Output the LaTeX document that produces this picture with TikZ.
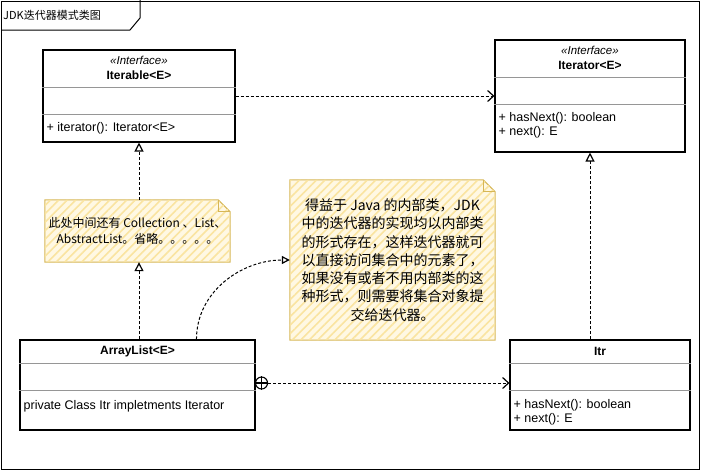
\documentclass[tikz,border=0pt]{standalone}
\usepackage{fontspec}
\setmainfont{Liberation Sans}
\newfontfamily\cjk{Noto Sans CJK SC}
\usetikzlibrary{arrows.meta,positioning,calc,patterns.meta}
\definecolor{noteyellow}{RGB}{255,242,204}
\definecolor{notehatch}{RGB}{250,228,160}
\definecolor{noteborder}{RGB}{214,182,86}
\definecolor{divgray}{RGB}{150,150,150}

% folded note outline round an (empty) node
\newcommand{\drawnote}[1]{%
  \draw[notepaper] (#1.north west) -- ($(#1.north east)+(-12,0)$) -- ($(#1.north east)+(0,12)$)
    -- (#1.south east) -- (#1.south west) -- cycle;
  \draw[noteedge] ($(#1.north east)+(-12,0)$) -- ($(#1.north east)+(-12,12)$) -- ($(#1.north east)+(0,12)$);
}

\begin{document}
\begin{tikzpicture}[
    x=1pt, y=-1pt,
    classbox/.style={rectangle, draw=black, line width=1.1pt, inner sep=0pt},
    divider/.style={draw=divgray, line width=0.7pt},
    stereo/.style={inner sep=0pt, font=\itshape\fontsize{11.5}{12}\selectfont},
    cname/.style={inner sep=0pt, font=\bfseries\fontsize{12}{13}\selectfont},
    member/.style={anchor=west, inner sep=0pt, font=\fontsize{12.5}{13}\selectfont},
    notebox/.style={rectangle, inner sep=0pt},
    notepaper/.style={fill=noteyellow!55, draw=noteborder, line width=1pt,
        postaction={pattern={Lines[angle=45,distance=6pt,line width=1.6pt]}, pattern color=notehatch}},
    noteedge/.style={draw=noteborder, line width=1pt},
    link/.style={dash pattern=on 3pt off 2pt, line width=1pt},
    dep/.style={link, -{Straight Barb[length=6pt,width=11pt,line width=1.2pt]}},
    realize/.style={link, -{Triangle[open,length=9pt,width=9pt,line width=1.2pt]}},
    notelink/.style={link, -{Triangle[open,length=8pt,width=8pt,line width=1.2pt]}}
]
\useasboundingbox (0,0) rectangle (701,471);

% frame and title tab
\node[draw, line width=1pt, minimum width=698pt, minimum height=468pt, inner sep=0pt] (frame) at (350.5,235.5) {};
\node[anchor=west, inner sep=0pt, font=\cjk\fontsize{11}{12}\selectfont] (title) at (3,15) {JDK迭代器模式类图};
\draw[line width=1pt] (frame.north west |- 0,30) -- (130,30) -- (140,18) -- (140,0);

% Iterable<E>
\node[classbox, minimum width=192pt, minimum height=92pt] (iterable) at (139,96) {};
\node[stereo] (iterablestereo) at ($(iterable.north)+(0,11)$) {«Interface»};
\node[cname] (iterablename) at ($(iterable.north)+(0,26)$) {Iterable<E>};
\draw[divider] ($(iterable.north west)+(0,38)$) -- ($(iterable.north east)+(0,38)$);
\draw[divider] ($(iterable.north west)+(0,65)$) -- ($(iterable.north east)+(0,65)$);
\node[member] (iterablem) at ($(iterable.north west)+(4,79)$) {+ iterator(): Iterator<E>};

% Iterator<E>
\node[classbox, minimum width=190pt, minimum height=112pt] (iterator) at (590,96) {};
\node[stereo] (iteratorstereo) at ($(iterator.north)+(0,11)$) {«Interface»};
\node[cname] (iteratorname) at ($(iterator.north)+(0,26)$) {Iterator<E>};
\draw[divider] ($(iterator.north west)+(0,38)$) -- ($(iterator.north east)+(0,38)$);
\draw[divider] ($(iterator.north west)+(0,65)$) -- ($(iterator.north east)+(0,65)$);
\node[member] (iteratorm1) at ($(iterator.north west)+(4,79)$) {+ hasNext(): boolean};
\node[member] (iteratorm2) at ($(iterator.north west)+(4,93)$) {+ next(): E};

% ArrayList<E>
\node[classbox, minimum width=235pt, minimum height=90pt] (arraylist) at (137.5,385) {};
\node[cname] (arraylistname) at ($(arraylist.north)+(0,12)$) {ArrayList<E>};
\draw[divider] ($(arraylist.north west)+(0,24)$) -- ($(arraylist.north east)+(0,24)$);
\draw[divider] ($(arraylist.north west)+(0,51)$) -- ($(arraylist.north east)+(0,51)$);
\node[member] (arraylistm) at ($(arraylist.north west)+(4,67)$) {private Class Itr impletments Iterator};

% Itr
\node[classbox, minimum width=180pt, minimum height=90pt] (itr) at (600,385) {};
\node[cname] (itrname) at ($(itr.north)+(0,12)$) {Itr};
\draw[divider] ($(itr.north west)+(0,24)$) -- ($(itr.north east)+(0,24)$);
\draw[divider] ($(itr.north west)+(0,51)$) -- ($(itr.north east)+(0,51)$);
\node[member] (itrm1) at ($(itr.north west)+(4,66)$) {+ hasNext(): boolean};
\node[member] (itrm2) at ($(itr.north west)+(4,80)$) {+ next(): E};

% notes
\node[notebox, minimum width=185pt, minimum height=62pt] (note1) at (137.5,231) {};
\drawnote{note1}
\node[align=center, inner sep=0pt, font=\cjk\fontsize{12}{16}\selectfont] (note1text) at (note1.center)
    {此处中间还有 Collection 、List、\\AbstractList。省略。。。。。};

\node[notebox, minimum width=205pt, minimum height=160pt] (note2) at (392.5,260) {};
\drawnote{note2}
\node[align=center, inner sep=0pt, font=\cjk\fontsize{14}{18.3}\selectfont] (note2text) at (note2.center) {
    得益于 Java 的内部类，JDK\\
    中的迭代器的实现均以内部类\\
    的形式存在，这样迭代器就可\\
    以直接访问集合中的元素了，\\
    如果没有或者不用内部类的这\\
    种形式，则需要将集合对象提\\
    交给迭代器。
};

% connectors
\draw[dep] (iterable.east) -- (iterator.west);
\draw[realize] (note1.north -| iterable.south) -- (iterable.south);
\draw[realize] (arraylist.north -| iterable.south) -- (note1.south -| iterable.south);
\draw[realize] (itr.north -| iterator.south) -- (iterator.south);
\coordinate (curvestart) at ($(arraylist.north west)+(177,0)$);
\draw[notelink] (curvestart) to[out=90, in=180] (note2.west);

% nested class marker
\node[circle, draw, line width=1.1pt, fill=white, minimum size=12pt, inner sep=0pt] (nest) at ($(arraylist.east)+(6,-2)$) {};
\draw[line width=1.1pt] (nest.north) -- (nest.south) (nest.west) -- (nest.east);
\draw[dep] (nest.east) -- (nest.east -| itr.west);

\end{tikzpicture}
\end{document}
